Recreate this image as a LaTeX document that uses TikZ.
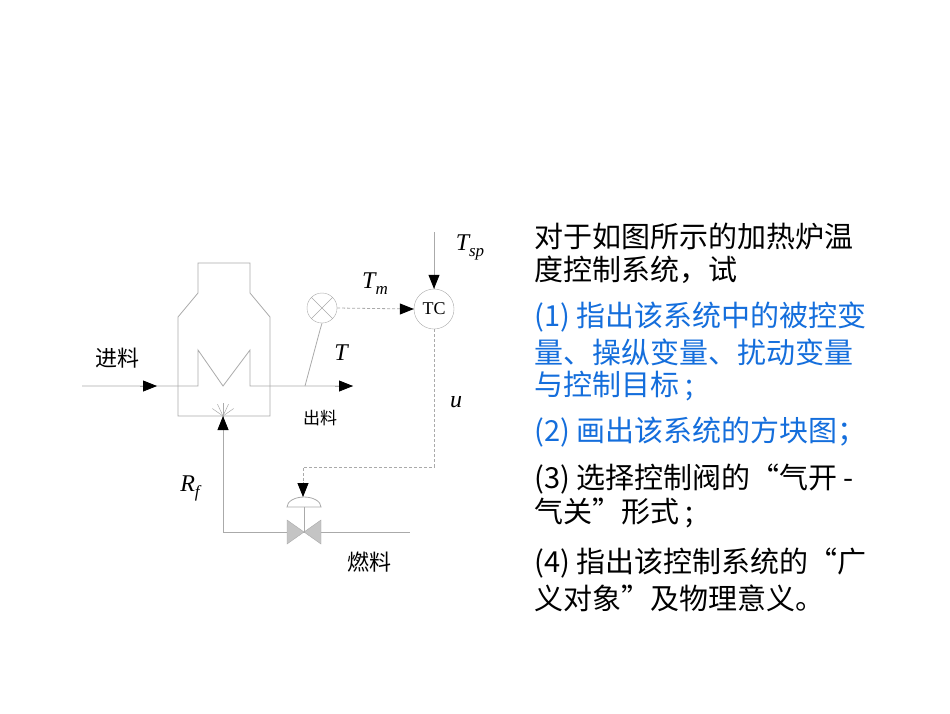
\documentclass[tikz,border=0pt]{standalone}
\usepackage{fontspec}
\setmainfont{Liberation Sans}
\newfontfamily\cjk{Noto Sans CJK SC}
\newfontfamily\lserif{Liberation Serif}
\usetikzlibrary{arrows.meta}
\definecolor{pipe}{RGB}{170,170,170}
\definecolor{qblue}{RGB}{20,110,220}
\tikzset{pipeln/.style={draw=pipe,line width=0.8pt},
 sig/.style={draw=pipe,line width=0.8pt,dash pattern=on 3pt off 2pt},
 tip/.style={-{Triangle[length=14pt,width=11pt,black]}},
 lab/.style={font=\lserif\itshape\fontsize{24}{24}\selectfont,inner sep=0pt},
 cn/.style={font=\cjk\fontsize{22}{22}\selectfont,inner sep=0pt},
 txt/.style={anchor=west,inner sep=0pt,font=\cjk\fontsize{29}{29}\selectfont}}
\begin{document}
\begin{tikzpicture}[x=1pt,y=-1pt]
\useasboundingbox (0,0) rectangle (950,713);
\fill[white] (0,0) rectangle (950,713);
% furnace
\draw[pipeln] (178,416) -- (178,317) -- (198,293) -- (198,263) -- (250,263) -- (250,293) -- (270,317) -- (270,416) -- cycle;
\coordinate (fin) at (82,386);
\coordinate (c1) at (198,386);
\draw[pipeln] (fin) -- (c1) -- (198,350) -- (223,386) -- (250,350) -- (250,386) -- (353,386);
\draw[pipeln,tip] (140,386) -- (157,386);
\draw[pipeln,tip] (335,386) -- (353,386);
% burner rays
\coordinate (burn) at (223,416);
\foreach \a in {35,65,90,115,145} \draw[pipe,line width=0.5pt] (burn) -- ++(\a:-13);
% fuel line
\node[coordinate] (vc) at (304,532) {};
\draw[pipeln] (burn) -- (223,532) -- (vc) -- (410,532);
\draw[pipeln,tip] (223,433) -- (223,416);
\fill[pipe!70] (287,520) -- (287,544) -- (vc) -- cycle;
\fill[pipe!70] (321,520) -- (321,544) -- (vc) -- cycle;
\draw[pipe] (287,520) -- (287,544) -- (321,520) -- (321,544) -- cycle;
\draw[pipeln] (vc) -- (304,507);
\draw[pipeln] (287,507) -- (321,507) arc[start angle=0,end angle=-180,x radius=17,y radius=10] -- cycle;
% sensor
\node[circle,draw=pipe,minimum size=30pt,inner sep=0pt] (sen) at (322,308) {};
\draw[pipe] (sen.45) -- (sen.225) (sen.135) -- (sen.315);
\draw[pipeln] (sen.south) -- (320,330) -- (305,386);
% controller
\node[circle,draw=pipe,minimum size=40pt,inner sep=0pt,font=\lserif\fontsize{18}{18}\selectfont] (tc) at (434,309) {TC};
\coordinate (sp) at (434,232);
\draw[pipeln] (sp) -- (tc.north);
\draw[pipeln,tip] (434,270) -- (tc.north);
\draw[sig] (sen.east) -- (tc.west);
\draw[pipeln,tip] (400,309) -- (tc.west);
\draw[sig] (tc.south) -- (434,467) -- (303,467) -- (303,482);
\draw[pipeln,tip] (303,482) -- (303,497);
% labels
\node[cn] at (117,358) {进料};
\node[cn,font=\cjk\fontsize{17}{17}\selectfont] at (320,418) {出料};
\node[cn] at (369,562) {燃料};
\node[lab] at (341,353) {T};
\node[lab] at (375,284) {T\raisebox{-6pt}{\fontsize{17}{17}\selectfont m}};
\node[lab] at (470,247) {T\raisebox{-6pt}{\fontsize{17}{17}\selectfont sp}};
\node[lab] at (456,402) {u};
\node[lab] at (190,488) {R\raisebox{-6pt}{\fontsize{17}{17}\selectfont f}};
% text
\node[txt] at (534,236) {对于如图所示的加热炉温};
\node[txt] at (534,270) {度控制系统，试};
\node[txt,text=qblue] at (534,317) {(1) 指出该系统中的被控变};
\node[txt,text=qblue] at (534,352) {量、操纵变量、扰动变量};
\node[txt,text=qblue] at (534,386) {与控制目标 ;};
\node[txt,text=qblue] at (534,432) {(2) 画出该系统的方块图；};
\node[txt] at (534,479) {(3) 选择控制阀的“气开 -};
\node[txt] at (534,513) {气关”形式 ;};
\node[txt] at (534,563) {(4) 指出该控制系统的“广};
\node[txt] at (534,598) {义对象”及物理意义。};
\end{tikzpicture}
\end{document}
